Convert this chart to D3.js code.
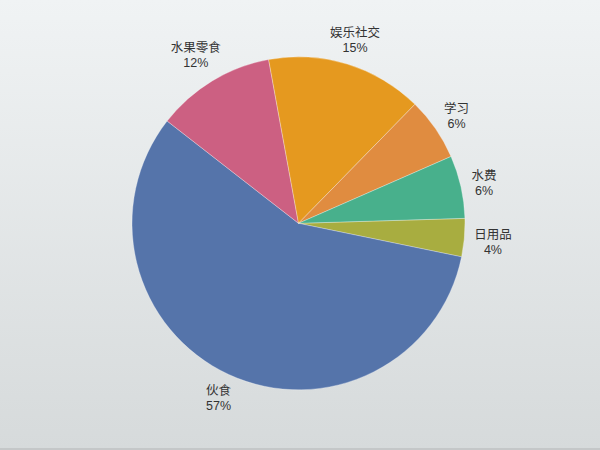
<!DOCTYPE html>
<html>
<head>
<meta charset="utf-8">
<script src="https://cdn.jsdelivr.net/npm/d3@7/dist/d3.min.js"></script>
<style>
  html, body { margin: 0; padding: 0; }
  svg { display: block; }
</style>
</head>
<body>
<script>
// Data
const categories = ["日用品", "伙食", "水果零食", "娱乐社交", "学习", "水费"];
const values = [3.7, 57.3, 11.6, 15.2, 6.1, 6.1];
const colors = ["#a8ad40", "#5574aa", "#cc6082", "#e5991f", "#e08c40", "#48b08c"];

const W = 600, H = 450;
const cx = 298.5, cy = 223.3, R = 166.5;

const svg = d3.select("body").append("svg")
  .attr("width", W).attr("height", H);

const defs = svg.append("defs");
const grad = defs.append("linearGradient")
  .attr("id", "bg").attr("x1", 0).attr("y1", 0).attr("x2", 0).attr("y2", 1);
grad.append("stop").attr("offset", "0%").attr("stop-color", "#f0f3f4");
grad.append("stop").attr("offset", "100%").attr("stop-color", "#d6dadb");

svg.append("rect").attr("width", W).attr("height", H).attr("fill", "url(#bg)");
svg.append("rect").attr("x", 0).attr("y", H - 2).attr("width", W).attr("height", 2).attr("fill", "#c4c7c8");

const total = d3.sum(values);
const startA = (88.3) * Math.PI / 180;
const pie = d3.pie().sort(null).value(d => d)
  .startAngle(startA).endAngle(startA + 2 * Math.PI);
const arcs = pie(values);
const arc = d3.arc().innerRadius(0).outerRadius(R);

const g = svg.append("g").attr("transform", `translate(${cx},${cy})`);

g.selectAll("path.slice").data(arcs).enter().append("path")
  .attr("class", "slice")
  .attr("d", arc)
  .attr("fill", (d, i) => colors[i])
  .attr("stroke", "rgba(255,255,255,0.5)")
  .attr("stroke-width", 0.6);

const fmt = v => Math.round(v / total * 100) + "%";
const R0 = 175.5, hEff = 22, yShift = 1.5;

const labels = g.selectAll("text.lbl").data(arcs).enter().append("text")
  .attr("class", "lbl")
  .attr("text-anchor", "middle")
  .attr("font-size", "12.5px")
  .attr("fill", "#333");

labels.append("tspan").attr("x", 0).attr("y", -3)
  .attr("font-family", "'Noto Sans CJK SC', 'Noto Sans', sans-serif")
  .text((d, i) => categories[i]);
labels.append("tspan").attr("x", 0).attr("y", 12)
  .attr("font-family", "'Liberation Sans', Arial, sans-serif")
  .text(d => fmt(d.value));

labels.each(function(d) {
  const a = (d.startAngle + d.endAngle) / 2;
  const ux = Math.sin(a), uy = -Math.cos(a);
  const bb = this.getBBox();
  const ext = Math.abs(ux) * bb.width / 2 + Math.abs(uy) * hEff / 2;
  const dist = R0 + ext;
  d3.select(this).attr("transform", `translate(${ux * dist},${uy * dist + yShift})`);
});
</script>
</body>
</html>
